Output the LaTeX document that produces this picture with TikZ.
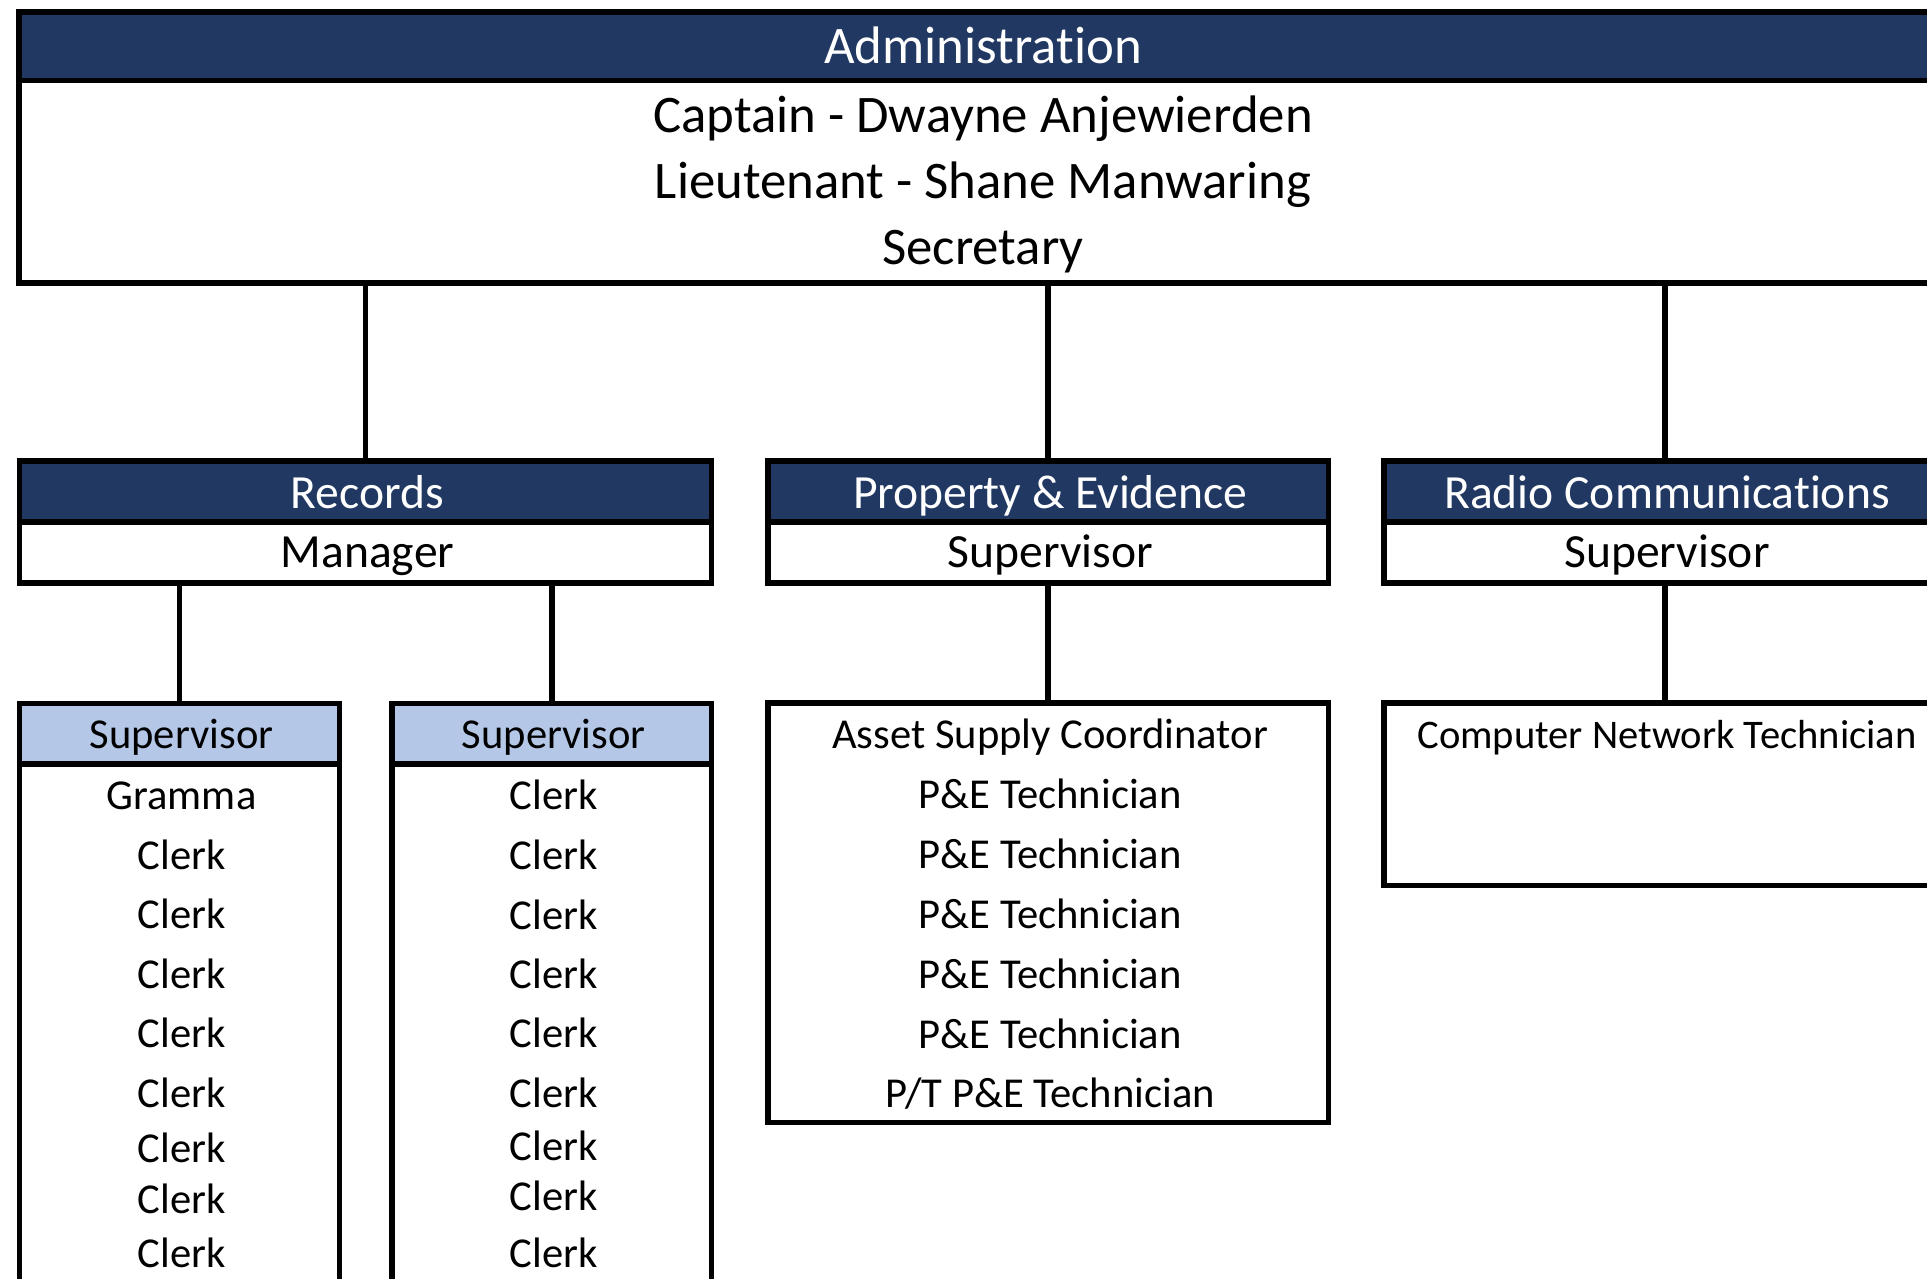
\documentclass[tikz,border=0pt]{standalone}
\usepackage{fontspec}
\setmainfont{Carlito}[Ligatures=NoCommon]
\definecolor{navy}{HTML}{213862}
\definecolor{paleblue}{HTML}{B4C7E7}
\begin{document}
\begin{tikzpicture}[x=1pt,y=-1pt,
  box/.style={draw=black, line width=5.7pt, fill=white, rectangle, inner sep=0pt, outer sep=0pt},
  band/.style={box, fill=navy},
  subband/.style={box, fill=paleblue},
  link/.style={draw=black, line width=5.7pt},
  lbl/.style={anchor=base, inner sep=0pt, outer sep=0pt, xshift=2pt},
  bigtxt/.style={lbl, font=\fontsize{52.8}{62}\selectfont},
  midtxt/.style={lbl, font=\fontsize{47.6}{56}\selectfont},
  smalltxt/.style={lbl, font=\fontsize{42.6}{50}\selectfont},
]
\useasboundingbox (0,0) rectangle (1927,1278);
\clip (0,0) rectangle (1927,1278);

% Administration
\node[box, minimum width=1924pt, minimum height=271pt] (admin) at (981,147.5) {};
\node[band, minimum width=1924pt, minimum height=68.5pt] (adminband) at (981,46.25) {};
\node[bigtxt, text=white] (admintitle) at (981,63) {Administration};
\node[bigtxt] (captain) at (981,132) {Captain - Dwayne Anjewierden};
\node[bigtxt] (lieutenant) at (981,198) {Lieutenant - Shane Manwaring};
\node[bigtxt] (secretary) at (981,264.5) {Secretary};

% Division boxes
\node[box, minimum width=692pt, minimum height=122pt] (records) at (365.5,522) {};
\node[band, minimum width=692pt, minimum height=61pt] (recordsband) at (365.5,491.5) {};
\node[midtxt, text=white] (recordstitle) at (365.5,508) {Records};
\node[midtxt] (manager) at (365.5,567) {Manager};

\node[box, minimum width=560.5pt, minimum height=122pt] (pe) at (1048.25,522) {};
\node[band, minimum width=560.5pt, minimum height=61pt] (peband) at (1048.25,491.5) {};
\node[midtxt, text=white] (petitle) at (1048.25,508) {Property \& Evidence};
\node[midtxt] (pesup) at (1048.25,567) {Supervisor};

\node[box, minimum width=562pt, minimum height=122pt] (radio) at (1665,522) {};
\node[band, minimum width=562pt, minimum height=61pt] (radioband) at (1665,491.5) {};
\node[midtxt, text=white] (radiotitle) at (1665,508) {Radio Communications};
\node[midtxt] (radiosup) at (1665,567) {Supervisor};

% Records supervisor teams
\node[box, minimum width=320pt, minimum height=640pt] (teamA) at (179.5,1023.5) {};
\node[subband, minimum width=320pt, minimum height=60.2pt] (teamAband) at (179.5,733.6) {};
\node[smalltxt] (teamAsup) at (179.5,748) {Supervisor};

\node[box, minimum width=319.6pt, minimum height=640pt] (teamB) at (551.8,1023.5) {};
\node[subband, minimum width=319.6pt, minimum height=60.2pt] (teamBband) at (551.8,733.6) {};
\node[smalltxt] (teamBsup) at (551.8,748) {Supervisor};

\node[smalltxt] (a0) at (179.5,809) {Gramma};
\foreach \y [count=\i] in {869,928,988,1047,1107,1162,1213,1267}
  \node[smalltxt] (a\i) at (179.5,\y) {Clerk};
\foreach \y [count=\i] in {809,869,929,988,1047,1107,1160,1210,1267}
  \node[smalltxt] (b\i) at (551.8,\y) {Clerk};

% Property & Evidence staff
\node[box, minimum width=560.5pt, minimum height=419.5pt] (pestaff) at (1048.25,912.75) {};
\node[smalltxt] (asset) at (1048.25,748) {Asset Supply Coordinator};
\foreach \y [count=\i] in {808,868,928,988,1048}
  \node[smalltxt] (tech\i) at (1048.25,\y) {P\&E Technician};
\node[smalltxt] (pttech) at (1048.25,1107) {P/T P\&E Technician};

% Radio staff
\node[box, minimum width=562pt, minimum height=182.5pt] (radiostaff) at (1665,794.25) {};
\node[lbl, font=\fontsize{40.6}{48}\selectfont] (cnt) at (1665,748) {Computer Network Technician};

% Connectors
\draw[link] (admin.south -| records.north) -- (records.north);
\draw[link] (admin.south -| pe.north) -- (pe.north);
\draw[link] (admin.south -| radio.north) -- (radio.north);
\draw[link] (records.south -| teamA.north) -- (teamA.north);
\draw[link] (records.south -| teamB.north) -- (teamB.north);
\draw[link] (pe.south) -- (pestaff.north);
\draw[link] (radio.south) -- (radiostaff.north);
\end{tikzpicture}
\end{document}
